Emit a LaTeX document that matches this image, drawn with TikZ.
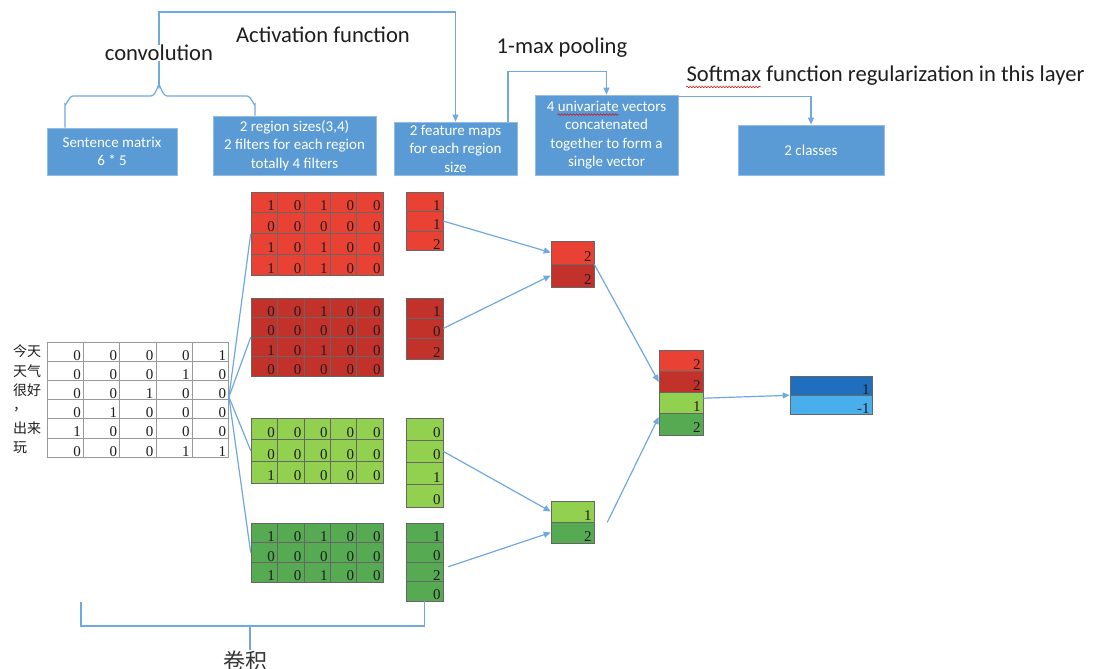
\documentclass[tikz,border=0pt]{standalone}
\usepackage{fontspec}
\newfontfamily\carfont{Carlito}
\newfontfamily\cjkfont{Noto Sans CJK SC}
\newfontfamily\digfont{Liberation Serif}
\usetikzlibrary{arrows.meta,decorations.pathmorphing}
\definecolor{boxblue}{RGB}{91,155,213}
\definecolor{boxedge}{RGB}{150,188,228}
\definecolor{linkblue}{RGB}{112,168,224}
\definecolor{redA}{RGB}{233,66,52}
\definecolor{redB}{RGB}{194,50,42}
\definecolor{greenA}{RGB}{146,208,80}
\definecolor{greenB}{RGB}{86,170,82}
\definecolor{blueA}{RGB}{31,111,190}
\definecolor{blueB}{RGB}{72,174,236}
\definecolor{ink}{RGB}{30,30,30}
\tikzset{
  bluebox/.style={draw=boxedge, line width=0.8pt, fill=boxblue, text=white,
    font=\carfont\fontsize{15}{18.5}\selectfont, align=center, inner sep=0pt},
  conn/.style={draw=linkblue, line width=1.2pt},
  arr/.style={conn, -{Triangle[length=7pt,width=6pt]}},
  title/.style={font=\carfont\fontsize{22.6}{25}\selectfont, text=ink, inner sep=0pt},
  cell/.style={draw=black!60, line width=0.6pt, inner xsep=2.5pt, inner ysep=0pt,
    align=right, font=\digfont\fontsize{15}{15}\selectfont, text=ink,
    text height=17pt, text depth=0pt},
  wordlabel/.style={font=\cjkfont\fontsize{14}{14}\selectfont, text=ink, anchor=west, inner sep=0pt},
  wavy/.style={draw=red!85!black, line width=0.5pt, decorate,
    decoration={snake, amplitude=0.8pt, segment length=3pt}}
}
% \mgrid[extra style]{name}{x0}{y0}{w}{h}{fill}{rows}
\newcommand\mgrid[8][]{%
  \pgfmathsetmacro\mytw{#5-5}%
  \foreach \rowlist [count=\ri] in {#8} {
    \foreach \val [count=\ci] in \rowlist {
      \node[cell, fill=#7, minimum width=#5pt, minimum height=#6pt, text width=\mytw pt, #1]
        (#2-\ri-\ci) at ({#3+(\ci-0.5)*#5}, {#4+(\ri-0.5)*#6}) {\val};
    }
  }%
}
% \vgrid{name}{x0}{y0}{w}{h}{val/colour list}
\newcommand\vgrid[6]{%
  \pgfmathsetmacro\mytw{#4-5}%
  \foreach \val/\col [count=\ri] in {#6} {
    \node[cell, fill=\col, minimum width=#4pt, minimum height=#5pt, text width=\mytw pt]
      (#1-\ri-1) at ({#2+0.5*#4}, {#3+(\ri-0.5)*#5}) {\val};
  }%
}
\begin{document}
\begin{tikzpicture}[x=1pt,y=-1pt]
\useasboundingbox (0,0) rectangle (1112,669);
\clip (0,0) rectangle (1112,669);

% ---------- top boxes ----------
\node[bluebox, minimum width=130pt, minimum height=47pt] (b1) at (112,151.5)
  {Sentence matrix\\6 * 5};
\node[bluebox, minimum width=163pt, minimum height=59pt] (b2) at (294.5,145.5)
  {2 region sizes(3,4)\\2 filters for each region\\totally 4 filters};
\node[bluebox, minimum width=123pt, minimum height=53pt] (b3) at (455.5,148.5)
  {2 feature maps\\for each region\\size};
\node[bluebox, minimum width=143pt, minimum height=80pt] (b4) at (606.5,135)
  {4 univariate vectors\\concatenated\\together to form a\\single vector};
\node[bluebox, minimum width=146pt, minimum height=50pt] (b5) at (811,150)
  {2 classes};
\draw[wavy] ([shift={(23,20)}]b4.north west) -- ([shift={(84,20)}]b4.north west);

% ---------- brace and top connectors ----------
\coordinate (tip) at (159,86);
\coordinate (braceL) at (b1.north -| 65,0);
\coordinate (braceR) at (b2.north -| 255,0);
\draw[conn] (braceL) -- (65,104) to[out=-90,in=180] (73,96) -- (151,96)
  to[out=0,in=90] (tip) to[out=90,in=180] (167,96) -- (247,96)
  to[out=0,in=-90] (255,104) -- (braceR);
\draw[arr] (tip) -- ++(0,-74) -| (b3.north);
\draw[arr] ([xshift=52.5pt]b3.north) -- ++(0,-50) -| (b4.north);
\draw[arr] ([yshift=-2pt]b4.north east) -| (b5.north);

\node[title, fill=white] (conv) at (159,53) {convolution};
\node[title] (act) at (323,35) {Activation function};
\node[title] (pool) at (562,48) {1-max pooling};
\node[title] (soft) at (885.5,76) {Softmax function regularization in this layer};
\draw[wavy] ([shift={(0,5)}]soft.base west) -- ([shift={(75,5)}]soft.base west);

% ---------- sentence matrix ----------
\mgrid[draw=black!40, line width=0.8pt]{sm}{47}{342}{36.3}{19.2}{white}%
  {{0,0,0,0,1},{0,0,0,1,0},{0,0,1,0,0},{0,1,0,0,0},{1,0,0,0,0},{0,0,0,1,1}}
\node[wordlabel] (w1) at (13,351.6) {今天};
\node[wordlabel] (w2) at (13,370.8) {天气};
\node[wordlabel] (w3) at (13,390.0) {很好};
\node[wordlabel] (w4) at (13,409.2) {，};
\node[wordlabel] (w5) at (13,428.4) {出来};
\node[wordlabel] (w6) at (13,447.6) {玩};

% ---------- filters ----------
\mgrid{ra}{251}{192}{26.4}{20.75}{redA}%
  {{1,0,1,0,0},{0,0,0,0,0},{1,0,1,0,0},{1,0,1,0,0}}
\mgrid{rb}{251}{298}{26.4}{19.5}{redB}%
  {{0,0,1,0,0},{0,0,0,0,0},{1,0,1,0,0},{0,0,0,0,0}}
\mgrid{ga}{251}{418}{26.4}{21.7}{greenA}%
  {{0,0,0,0,0},{0,0,0,0,0},{1,0,0,0,0}}
\mgrid{gb}{251}{523}{26.4}{19.7}{greenB}%
  {{1,0,1,0,0},{0,0,0,0,0},{1,0,1,0,0}}

% ---------- feature maps ----------
\vgrid{fa}{406}{192}{37}{19.4}{1/redA,1/redA,2/redA}
\vgrid{fb}{406}{298}{37}{20.3}{1/redB,0/redB,2/redB}
\vgrid{fc}{406}{418}{37}{22.25}{0/greenA,0/greenA,1/greenA,0/greenA}
\vgrid{fd}{406}{523}{37}{19.5}{1/greenB,0/greenB,2/greenB,0/greenB}

% ---------- pooled vectors ----------
\vgrid{pa}{551}{241}{43}{23}{2/redA,2/redB}
\vgrid{pb}{551}{501}{43}{21}{1/greenA,2/greenB}
\vgrid{cv}{659}{350}{44}{21.25}{2/redA,2/redB,1/greenA,2/greenB}
\vgrid{ov}{790}{376}{82}{19}{1/blueA,-1/blueB}

% ---------- connectors ----------
\coordinate (smr) at ([yshift=3pt]sm-3-5.south east);
\draw[conn] (smr) -- (ra-2-1.south west);
\draw[conn] (smr) -- (rb-2-1.south west);
\draw[conn] (smr) -- (ga-2-1.west);
\draw[conn] (smr) -- (gb-2-1.west);

\draw[arr] (fa-2-1.east) -- (pa-1-1.west);
\draw[arr] (fb-2-1.east) -- (pa-2-1.west);
\draw[arr] (fc-2-1.east) -- (pb-1-1.west);
\draw[arr] ([shift={(5,-5)}]fd-3-1.east) -- (pb-2-1.west);

\draw[arr] (pa-1-1.south east) -- (cv-2-1.west);
\draw[arr] ([xshift=13pt]pb-1-1.south east) -- ([yshift=-3pt]cv-3-1.south west);
\draw[arr] ([yshift=-6pt]cv-3-1.north east) -- (ov-1-1.south west);

% ---------- bottom bracket ----------
\coordinate (bl) at (81,602);
\coordinate (bstem) at (250,626);
\coordinate (bend) at (250,650);
\draw[conn] (bl) -- ++(0,24) -| (fd-4-1.south);
\node[font=\cjkfont\fontsize{22}{22}\selectfont, text=ink!90, inner sep=0pt] (juanji) at (245,661) {卷积};
\draw[conn] (bstem) -- (bend);
\end{tikzpicture}
\end{document}
